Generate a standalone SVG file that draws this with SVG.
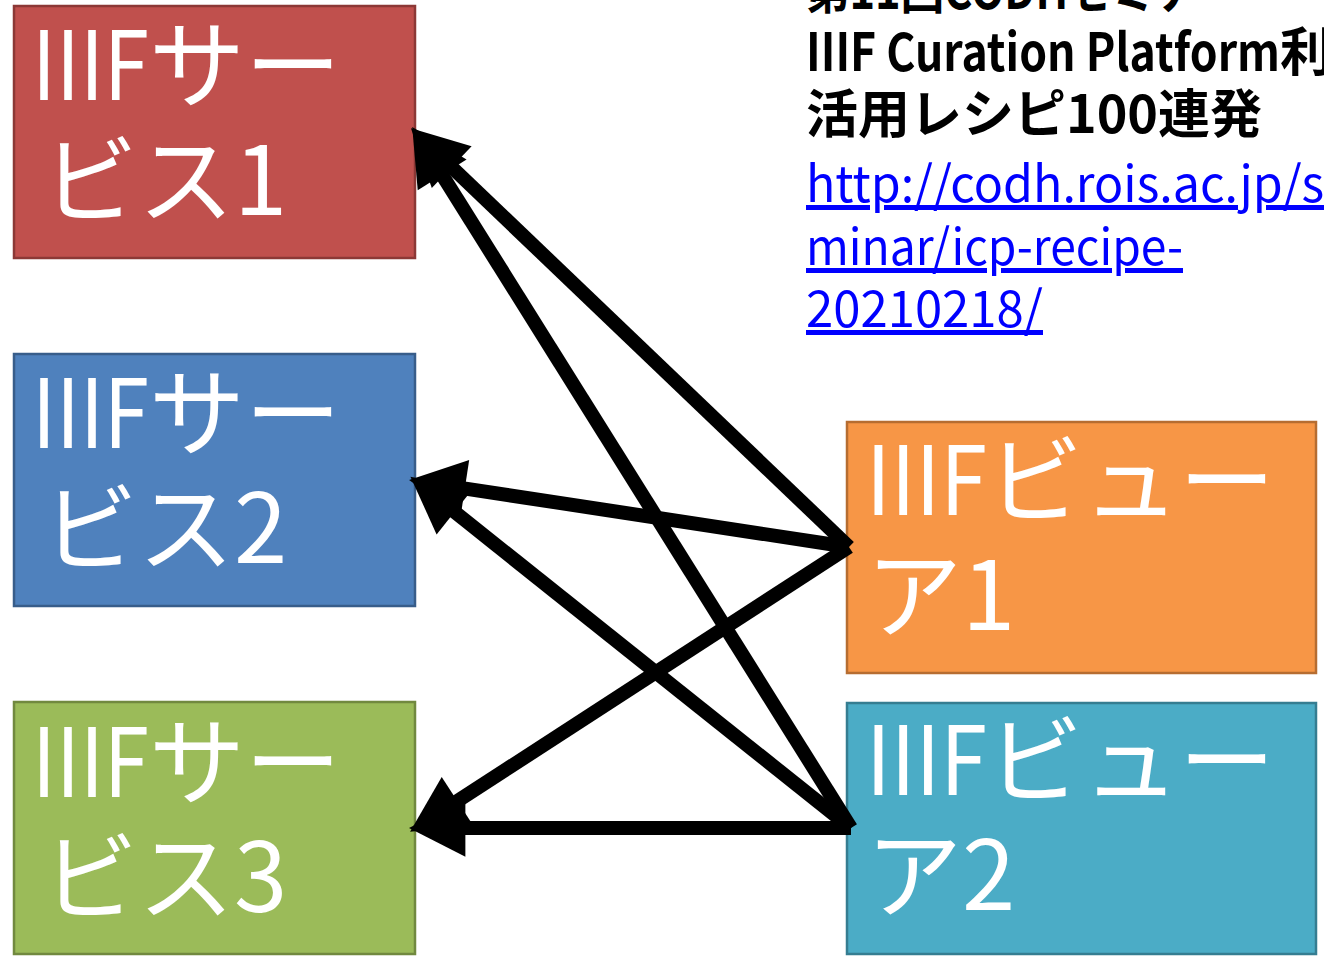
<svg xmlns="http://www.w3.org/2000/svg" width="1324" height="956" viewBox="0 0 1324 956">
<style>
.box{stroke-width:2.5}
.lbl{font-family:"Noto Sans CJK JP","Noto Sans",sans-serif;font-size:96px;fill:#ffffff}
.title{font-family:"Noto Sans CJK JP","Noto Sans",sans-serif;font-size:52px;font-weight:700;fill:#000000}
.link{font-family:"Noto Sans CJK JP","Noto Sans",sans-serif;font-size:50px;fill:#0000ff;text-decoration:underline}
.conn{stroke:#000000;stroke-width:14;fill:none;marker-end:url(#ah)}
</style>
<defs>
<marker id="ah" markerUnits="userSpaceOnUse" markerWidth="60" markerHeight="60" viewBox="0 -25 48 50" refX="12" refY="0" orient="auto">
<path d="M0,-24 L47,0 L0,24 z" fill="#000000"/>
</marker>
</defs>
<rect width="1324" height="956" fill="#ffffff"/>
<g id="title">
<text class="title" x="806" y="9" textLength="436" lengthAdjust="spacingAndGlyphs">第11回CODHセミナー</text>
<text class="title" x="806" y="71"><tspan textLength="474" lengthAdjust="spacingAndGlyphs">IIIF Curation Platform</tspan>利</text>
<text class="title" x="806" y="133">活用レシピ100連発</text>
<text class="link" x="806" y="202" textLength="545" lengthAdjust="spacingAndGlyphs">http://codh.rois.ac.jp/se</text>
<text class="link" x="806" y="265" textLength="377" lengthAdjust="spacingAndGlyphs">minar/icp-recipe-</text>
<text class="link" x="806" y="327" textLength="237" lengthAdjust="spacingAndGlyphs">20210218/</text>
</g>
<g id="service1">
<rect class="box" x="14" y="6" width="401" height="252" fill="#C0504D" stroke="#8C3836"/>
<text class="lbl" x="32" y="100"><tspan textLength="117" lengthAdjust="spacingAndGlyphs">IIIF</tspan>サー</text>
<text class="lbl" x="42" y="215">ビス1</text>
</g>
<g id="service2">
<rect class="box" x="14" y="354" width="401" height="252" fill="#4F81BD" stroke="#385D8A"/>
<text class="lbl" x="32" y="448"><tspan textLength="117" lengthAdjust="spacingAndGlyphs">IIIF</tspan>サー</text>
<text class="lbl" x="42" y="563">ビス2</text>
</g>
<g id="service3">
<rect class="box" x="14" y="702" width="401" height="252" fill="#9BBB59" stroke="#71893F"/>
<text class="lbl" x="32" y="797"><tspan textLength="117" lengthAdjust="spacingAndGlyphs">IIIF</tspan>サー</text>
<text class="lbl" x="42" y="912">ビス3</text>
</g>
<g id="viewer1">
<rect class="box" x="847" y="422" width="469" height="251" fill="#F79646" stroke="#B66D31"/>
<text class="lbl" x="866" y="515"><tspan textLength="121" lengthAdjust="spacingAndGlyphs">IIIF</tspan>ビュー</text>
<text class="lbl" x="866" y="630">ア1</text>
</g>
<g id="viewer2">
<rect class="box" x="847" y="703" width="469" height="251" fill="#4BACC6" stroke="#357D91"/>
<text class="lbl" x="866" y="795"><tspan textLength="121" lengthAdjust="spacingAndGlyphs">IIIF</tspan>ビュー</text>
<text class="lbl" x="866" y="910">ア2</text>
</g>
<g id="connectors">
<line class="conn" x1="849" y1="547" x2="441.3" y2="157.2"/>
<line class="conn" x1="849" y1="547" x2="450.6" y2="486.3"/>
<line class="conn" x1="849" y1="547" x2="445.3" y2="808.9"/>
<line class="conn" x1="851" y1="828" x2="434.5" y2="162.7"/>
<line class="conn" x1="851" y1="828" x2="443.3" y2="502.9"/>
<line class="conn" x1="851" y1="828" x2="451" y2="828"/>
</g>
</svg>
